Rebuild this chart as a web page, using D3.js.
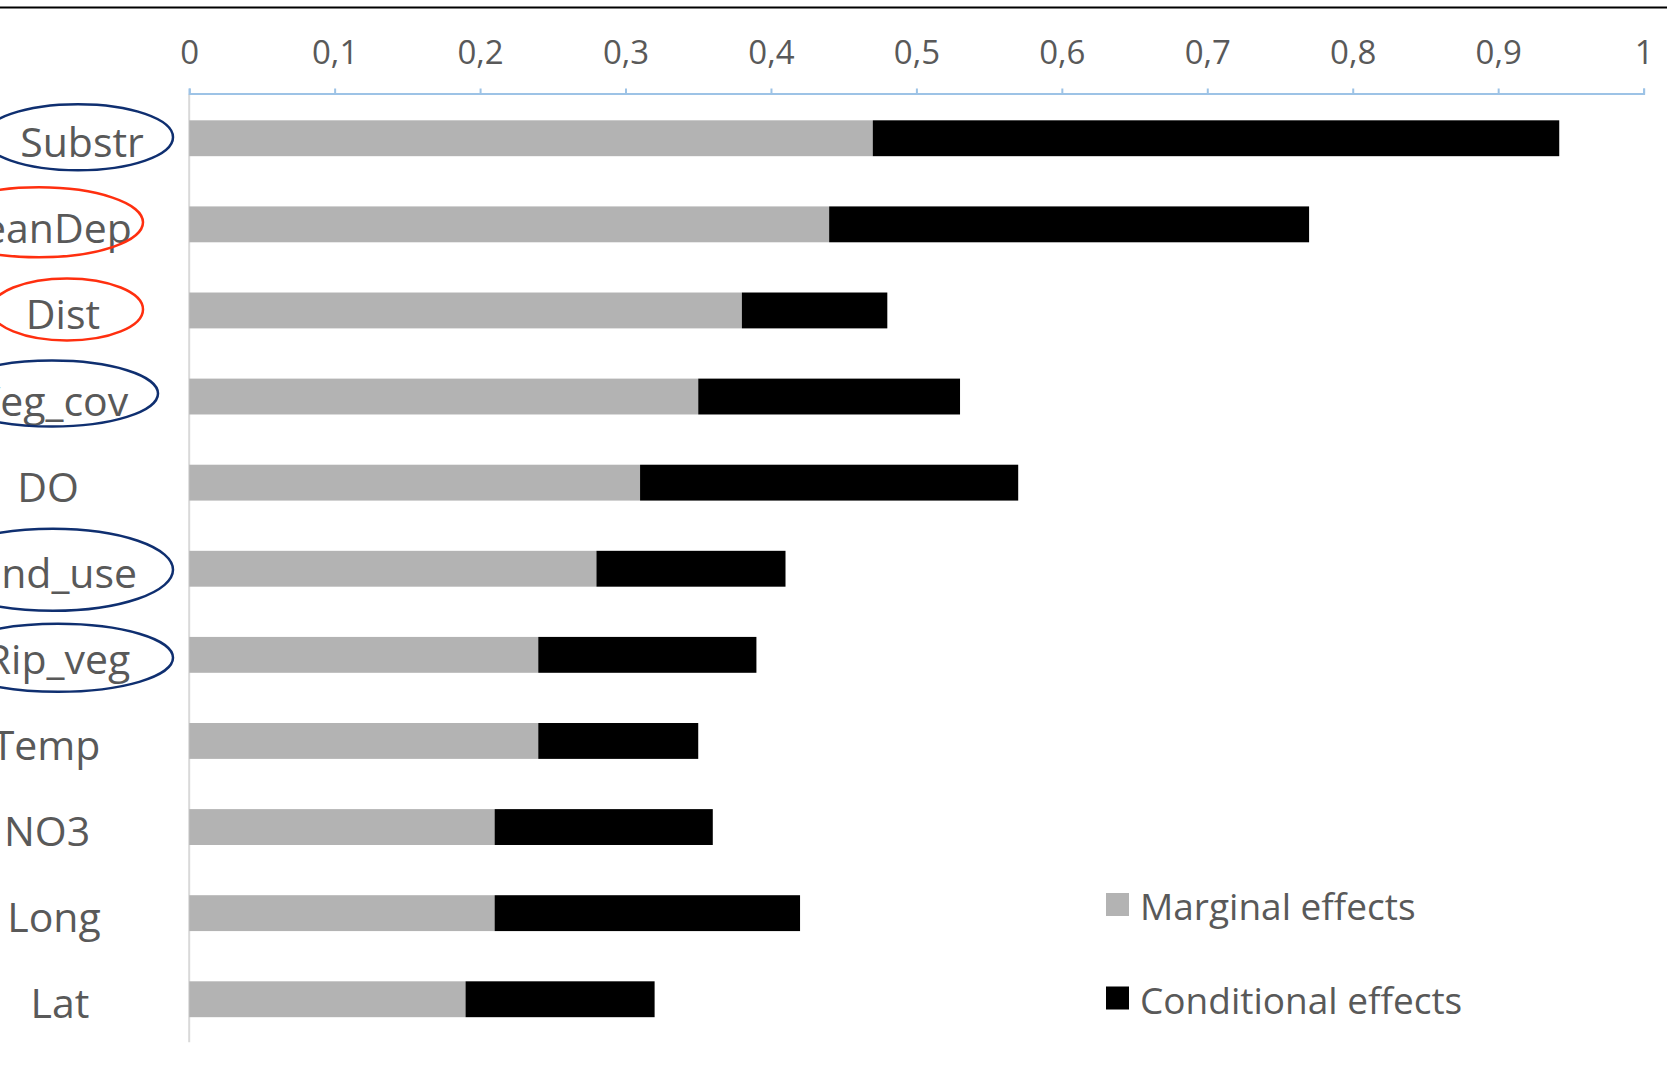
<!DOCTYPE html>
<html>
<head>
<meta charset="utf-8">
<script src="https://cdn.jsdelivr.net/npm/d3@7/dist/d3.min.js"></script>
<style>
  html, body { margin: 0; padding: 0; background: #fff; }
  svg { display: block; }
</style>
</head>
<body>
<svg id="chart" width="1667" height="1069"></svg>
<script>
// ---- data ----
const categories = ["Substr", "MeanDep", "Dist", "Veg_cov", "DO", "Land_use", "Rip_veg", "Temp", "NO3", "Long", "Lat"];
const marginal    = [0.47, 0.44, 0.38, 0.35, 0.31, 0.28, 0.24, 0.24, 0.21, 0.21, 0.19];
const conditional = [0.472, 0.33, 0.10, 0.18, 0.26, 0.13, 0.15, 0.11, 0.15, 0.21, 0.13];
const tickValues  = [0, 0.1, 0.2, 0.3, 0.4, 0.5, 0.6, 0.7, 0.8, 0.9, 1];
const tickLabels  = ["0", "0,1", "0,2", "0,3", "0,4", "0,5", "0,6", "0,7", "0,8", "0,9", "1"];
const seriesNames = ["Marginal effects", "Conditional effects"];
const highlightedRed  = ["MeanDep", "Dist"];
const highlightedBlue = ["Substr", "Veg_cov", "Land_use", "Rip_veg"];

// ---- layout / style (not data) ----
const W = 1667, H = 1069;
const colors = { marginal: "#b3b3b3", conditional: "#000000", text: "#595959",
                 axis: "#9dc3e6", vaxis: "#d9d9d9", red: "#ff2f0f", blue: "#0f2f70" };
const labelCx = [82, 39, 63, 52, 48, 47, 58, 46, 47, 54, 60];
const ellipseGeom = { Substr: [78, 95, 33], MeanDep: [39, 104, 35], Dist: [67, 76, 31],
                      Veg_cov: [52, 106, 33], Land_use: [53, 120, 41], Rip_veg: [58, 115, 34] };
const ellipseDy = { Substr: -1, MeanDep: -2, Dist: -1, Veg_cov: -3, Land_use: 1, Rip_veg: 3 };

const svg = d3.select("#chart");

// top frame line
svg.append("line").attr("x1", 0).attr("x2", W).attr("y1", 7.5).attr("y2", 7.5)
  .attr("stroke", "#000").attr("stroke-width", 2);

const x = d3.scaleLinear().domain([0, 1]).range([189.2, 1643.6]);
const y = d3.scaleBand().domain(categories).range([95.2, 1042.3])
  .paddingInner(1.4 / 2.4).paddingOuter(0.7 / 2.4);

// vertical (category) axis line
svg.append("line").attr("x1", x(0)).attr("x2", x(0)).attr("y1", 93.5).attr("y2", 1042.3)
  .attr("stroke", colors.vaxis).attr("stroke-width", 2);

// bars
const rows = categories.map((c, i) => ({ cat: c, m: marginal[i], c: conditional[i] }));
svg.append("g").selectAll("rect.m").data(rows).join("rect")
  .attr("x", x(0)).attr("y", d => y(d.cat))
  .attr("width", d => x(d.m) - x(0)).attr("height", y.bandwidth())
  .attr("fill", colors.marginal);
svg.append("g").selectAll("rect.c").data(rows).join("rect")
  .attr("x", d => x(d.m)).attr("y", d => y(d.cat))
  .attr("width", d => x(d.m + d.c) - x(d.m)).attr("height", y.bandwidth())
  .attr("fill", colors.conditional);

// top axis
const axis = d3.axisTop(x).tickValues(tickValues)
  .tickFormat((d, i) => tickLabels[i]).tickSize(5).tickSizeOuter(5).tickPadding(25);
const ag = svg.append("g").attr("transform", "translate(0,93.5)").call(axis);
ag.select(".domain").attr("stroke", colors.axis).attr("stroke-width", 2);
ag.selectAll(".tick line").attr("stroke", colors.axis).attr("stroke-width", 2);
ag.selectAll(".tick text").attr("fill", colors.text)
  .style("font-family", "'Open Sans', sans-serif").style("font-size", "33px");

// category labels
svg.append("g").selectAll("text").data(categories).join("text")
  .attr("x", (d, i) => labelCx[i])
  .attr("y", d => y(d) + y.bandwidth() / 2 + 19)
  .attr("text-anchor", "middle")
  .attr("fill", colors.text)
  .style("font-family", "'Open Sans', sans-serif").style("font-size", "41px")
  .text(d => d);

// highlight ellipses
const ell = highlightedRed.map(c => ({ c, col: colors.red }))
  .concat(highlightedBlue.map(c => ({ c, col: colors.blue })));
svg.append("g").selectAll("ellipse").data(ell).join("ellipse")
  .attr("cx", d => ellipseGeom[d.c][0])
  .attr("cy", d => y(d.c) + y.bandwidth() / 2 + ellipseDy[d.c])
  .attr("rx", d => ellipseGeom[d.c][1])
  .attr("ry", d => ellipseGeom[d.c][2])
  .attr("fill", "none").attr("stroke", d => d.col).attr("stroke-width", 2.5);

// legend
const legendColors = [colors.marginal, colors.conditional];
const leg = svg.append("g").selectAll("g").data(seriesNames).join("g")
  .attr("transform", (d, i) => `translate(1106,${893 + i * 93.5})`);
leg.append("rect").attr("width", 23).attr("height", 23)
  .attr("fill", (d, i) => legendColors[i]);
leg.append("text").attr("x", 34).attr("y", 27)
  .attr("fill", colors.text)
  .style("font-family", "'Open Sans', sans-serif").style("font-size", "37px")
  .text(d => d);
</script>
</body>
</html>
